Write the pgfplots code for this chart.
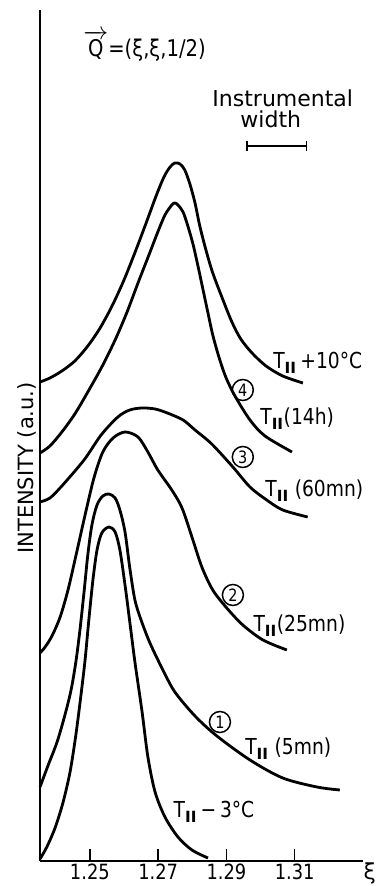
\documentclass[border=0pt]{standalone}
\usepackage{fontspec}
\setmainfont{DejaVu Sans}
\newfontfamily\narrowfont[FakeStretch=0.85]{DejaVu Sans}
\usepackage{amsmath}
\usepackage{pgfplots}
\pgfplotsset{compat=1.18}
\usepackage{pgfplotstable}

% x = xi, y = intensity (a.u., arbitrary offset units)
% T_II - 3 C
\pgfplotstableread{
x y
1.2354 2
1.2374 14
1.2398 33
1.2421 58
1.2442 89
1.2459 126
1.2474 166
1.2486 201
1.2497 241
1.2509 281
1.2521 311
1.2535 328
1.2556 334
1.2574 329
1.2588 311
1.2603 276
1.2617 239
1.2632 199
1.2653 149
1.2670 104
1.2691 69
1.2720 44
1.2758 24
1.2799 11
1.2846 3
}\curveM

% T_II (5mn)
\pgfplotstableread{
x y
1.2354 74
1.2377 95
1.2404 119
1.2427 146
1.2445 171
1.2459 199
1.2471 231
1.2483 269
1.2494 306
1.2506 336
1.2521 356
1.2538 365
1.2556 367
1.2574 363
1.2588 351
1.2603 329
1.2617 293
1.2632 261
1.2650 241
1.2676 218
1.2714 191
1.2749 169
1.2808 145
1.2872 125
1.2969 101
1.3065 83
1.3165 74
1.3232 71
}\curveA

% T_II (25mn)
\pgfplotstableread{
x y
1.2354 208
1.2369 214
1.2389 225
1.2413 244
1.2436 271
1.2459 305
1.2486 346
1.2512 383
1.2538 409
1.2568 423
1.2603 429
1.2641 424
1.2670 409
1.2699 391
1.2740 371
1.2770 353
1.2799 324
1.2828 294
1.2860 271
1.2901 253
1.2948 236
1.3007 221
1.3077 211
}\curveB

% T_II (60mn)
\pgfplotstableread{
x y
1.2354 359
1.2383 363
1.2418 375
1.2483 401
1.2533 426
1.2582 444
1.2617 451
1.2653 453
1.2691 452
1.2727 448
1.2773 441
1.2808 431
1.2857 417
1.2919 394
1.2969 374
1.3018 361
1.3065 351
1.3138 344
}\curveC

% T_II (14h)
\pgfplotstableread{
x y
1.2354 408
1.2383 415
1.2418 429
1.2456 447
1.2494 469
1.2535 494
1.2574 521
1.2609 549
1.2641 578
1.2673 606
1.2699 629
1.2720 646
1.2740 656
1.2749 658
1.2758 656
1.2773 649
1.2787 635
1.2802 617
1.2816 596
1.2831 572
1.2846 548
1.2860 526
1.2878 504
1.2898 484
1.2925 465
1.2969 441
1.3013 425
1.3092 409
}\curveD

% T_II + 10 C
\pgfplotstableread{
x y
1.2354 479
1.2383 483
1.2418 490
1.2456 500
1.2494 515
1.2530 533
1.2565 555
1.2600 581
1.2635 611
1.2667 640
1.2694 665
1.2717 684
1.2735 694
1.2749 698
1.2764 697
1.2778 691
1.2793 677
1.2808 658
1.2822 635
1.2840 611
1.2860 588
1.2890 561
1.2916 539
1.2942 522
1.2975 508
1.3016 495
1.3065 485
1.3124 478
}\curveE

\newcommand{\TII}{T$_{\mathbf{II}}$}
\newcommand{\lab}{\narrowfont\fontsize{22}{24}\selectfont}
\tikzset{circnum/.style={circle, draw, line width=1.5pt, inner sep=0pt, minimum size=21pt, font=\narrowfont\fontsize{17}{17}\selectfont}}

\begin{document}
\begin{tikzpicture}
\begin{axis}[
  scale only axis, width=323pt, height=851pt,
  xmin=1.2354, xmax=1.33, ymin=0, ymax=851,
  axis x line=bottom, axis y line=left,
  axis line style={-, line width=1.7pt},
  xtick={1.25,1.27,1.29,1.31}, xticklabels={1.25,1.27,1.29,1.31},
  ytick=\empty,
  tick align=inside, major tick length=12pt,
  tick style={line width=1.5pt, black},
  xticklabel style={font=\narrowfont\fontsize{21}{22}\selectfont, inner sep=0pt, anchor=north, yshift=-3pt},
  clip=false,
]
\addplot[black, line width=2.8pt, smooth, no markers] table {\curveM};
\addplot[black, line width=2.8pt, smooth, no markers] table {\curveA};
\addplot[black, line width=2.8pt, smooth, no markers] table {\curveB};
\addplot[black, line width=2.8pt, smooth, no markers] table {\curveC};
\addplot[black, line width=2.8pt, smooth, no markers] table {\curveD};
\addplot[black, line width=2.8pt, smooth, no markers] table {\curveE};

\node[anchor=base west, font=\lab] at (axis cs:1.3027,492) {\TII\,+10°C};
\node[circnum] at (axis cs:1.2948,471) {4};
\node[anchor=base west, font=\lab] at (axis cs:1.2989,436) {\TII(14h)};
\node[circnum] at (axis cs:1.2948,404) {3};
\node[anchor=base west, font=\lab] at (axis cs:1.3004,364) {\TII\ (60mn)};
\node[circnum] at (axis cs:1.2919,266) {2};
\node[anchor=base west, font=\lab] at (axis cs:1.2969,229) {\TII(25mn)};
\node[circnum] at (axis cs:1.2881,139) {1};
\node[anchor=base west, font=\lab] at (axis cs:1.2945,106) {\TII\ (5mn)};
\node[anchor=base west, font=\lab] at (axis cs:1.2735,43) {\TII\,−\,3°C};

\node[anchor=base west, font=\narrowfont\fontsize{23}{24}\selectfont] at (axis cs:1.2471,804) {$\overrightarrow{\text{Q}}$=(ξ,ξ,1/2)};
\node[anchor=base, font=\fontsize{22}{24}\selectfont] at (axis cs:1.3065,754) {Instrumental};
\node[anchor=base, font=\fontsize{22}{24}\selectfont] at (axis cs:1.3030,733) {width};
\draw[line width=1.5pt] (axis cs:1.2960,715) -- (axis cs:1.3135,715);
\draw[line width=1.5pt] (axis cs:1.2960,710) -- (axis cs:1.2960,720);
\draw[line width=1.5pt] (axis cs:1.3135,710) -- (axis cs:1.3135,720);

\node[font=\fontsize{22}{24}\selectfont] at (axis cs:1.3320,-12) {ξ};
\node[rotate=90, font=\fontsize{21}{24}\selectfont] at (axis cs:1.2316,393) {INTENSITY (a.u.)};
\end{axis}
\pgfresetboundingbox
\path[use as bounding box] (-40pt,-25pt) rectangle (338pt,861pt);
\end{tikzpicture}
\end{document}
